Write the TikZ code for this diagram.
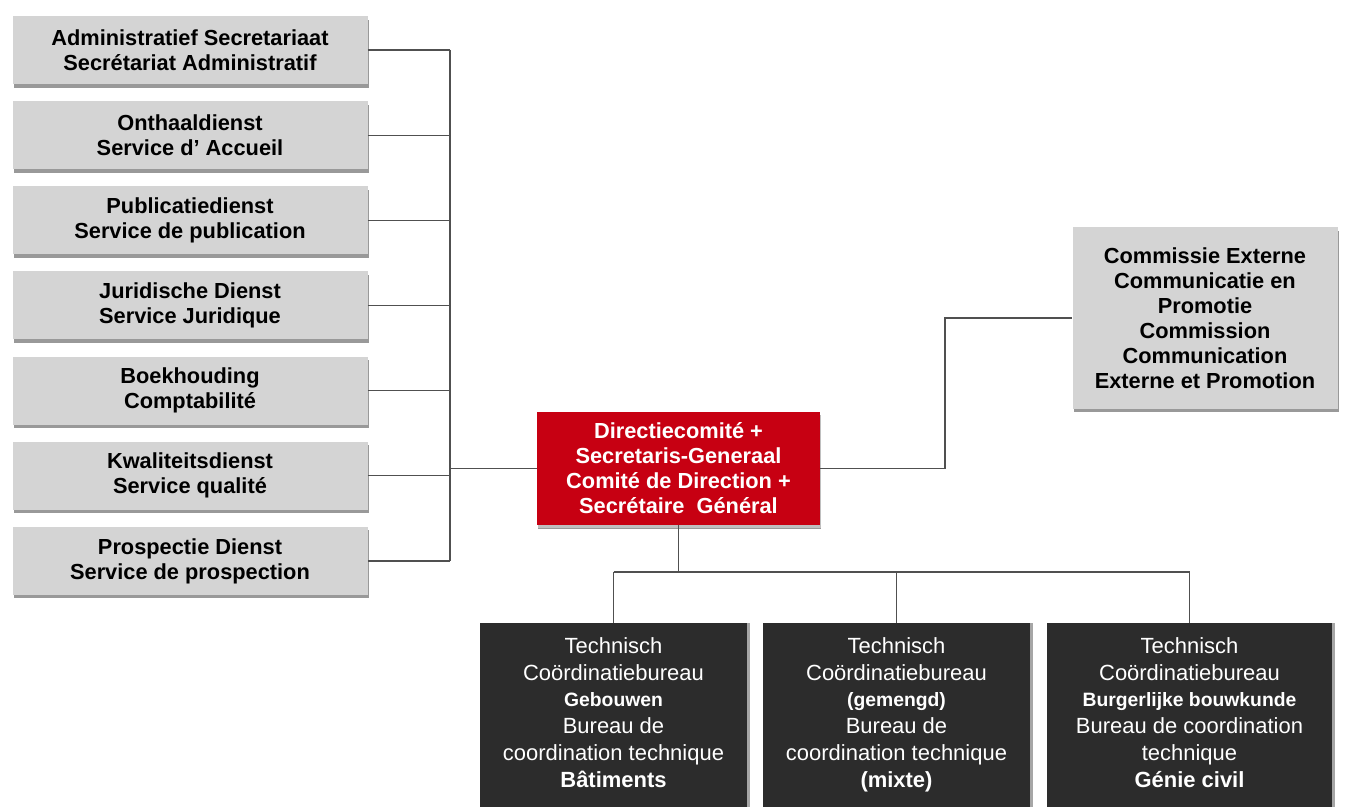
\documentclass[tikz,border=0pt]{standalone}
\usepackage{fontspec}
\setmainfont{Liberation Sans}
\usetikzlibrary{positioning,shadows}
\definecolor{svcgray}{HTML}{D4D4D4}
\definecolor{dirred}{HTML}{C70012}
\definecolor{tcbdark}{HTML}{2C2C2C}
\definecolor{wiregray}{HTML}{505050}
\tikzset{
  svc/.style   = { fill=svcgray, inner sep=0pt, align=center,
    minimum width=7.1cm, minimum height=1.36cm,
    font=\fontsize{12.4}{14.2}\selectfont\bfseries,
    drop shadow={shadow xshift=0.6pt, shadow yshift=-2pt, fill=gray!80, opacity=1} },
  board/.style = { svc, fill=dirred, text=white,
    minimum width=5.66cm, minimum height=2.26cm,
    drop shadow={shadow xshift=0.6pt, shadow yshift=-1.5pt, fill=gray!50, opacity=1} },
  tcb/.style   = { fill=tcbdark, text=white, inner sep=0pt, align=center,
    minimum height=3.68cm, font=\fontsize{12.5}{15.2}\selectfont,
    drop shadow={shadow xshift=1.5pt, shadow yshift=0pt, fill=gray!70, opacity=1} },
  wire/.style  = { draw=wiregray, line width=0.7pt }
}
\newcommand{\tbold}[1]{{\fontsize{11}{15.2}\selectfont\bfseries #1}}

\begin{document}
\begin{tikzpicture}[node distance=1.703cm, on grid]
  \useasboundingbox (0,0) rectangle (27.02,-16.14);
  % stafdiensten / services d'etat-major
  \node[svc] (adm) at (3.8,-1.0) {Administratief Secretariaat\\Secrétariat Administratif};
  \node[svc, below=of adm] (ont) {Onthaaldienst\\Service d' Accueil};
  \node[svc, below=of ont] (pub) {Publicatiedienst\\Service de publication};
  \node[svc, below=of pub] (jur) {Juridische Dienst\\Service Juridique};
  \node[svc, below=of jur] (boe) {Boekhouding\\Comptabilité};
  \node[svc, below=of boe] (kwa) {Kwaliteitsdienst\\Service qualité};
  \node[svc, below=of kwa] (pro) {Prospectie Dienst\\Service de prospection};
  % directie
  \node[board] (dc) at (13.57,-9.37) {Directiecomité +\\Secretaris-Generaal\\Comité de Direction +\\Secrétaire\ \ Général};
  \node[svc, minimum width=5.3cm, minimum height=3.62cm] (cep) at (24.1,-6.36)
    {Commissie Externe\\Communicatie en\\Promotie\\Commission\\Communication\\Externe et Promotion};
  % technische coordinatiebureaus
  \node[tcb, minimum width=5.34cm] (tgb) at (12.27,-14.3)
    {\strut Technisch\\Coördinatiebureau\\\tbold{Gebouwen}\\Bureau de\\coordination technique\\\textbf{Bâtiments}\strut};
  \node[tcb, minimum width=5.34cm, right=5.66cm of tgb] (tgm)
    {\strut Technisch\\Coördinatiebureau\\\tbold{(gemengd)}\\Bureau de\\coordination technique\\\textbf{(mixte)}\strut};
  \node[tcb, minimum width=5.7cm, right=5.86cm of tgm] (tbb)
    {\strut Technisch\\Coördinatiebureau\\\tbold{Burgerlijke bouwkunde}\\Bureau de coordination\\technique\\\textbf{Génie civil}\strut};
  \coordinate (lbus) at (9.0,0);
  \coordinate (rbus) at (18.9,0);
  \coordinate (bbus) at (0,-11.44);
  \foreach \n in {adm,ont,pub,jur,boe,kwa,pro}
    \path[wire] (\n.east) -- (\n.east -| lbus);
  \path[wire] (adm.east -| lbus) -- (pro.east -| lbus);
  \path[wire] (dc.west) -- (dc.west -| lbus);
  \path[wire] (dc.east) -| (rbus |- cep.west) -- (cep.west);
  \path[wire] (dc.south) -- (dc.south |- bbus);
  \path[wire] (tgb.north |- bbus) -- (tbb.north |- bbus);
  \foreach \n in {tgb,tgm,tbb}
    \path[wire] (\n.north |- bbus) -- (\n.north);
\end{tikzpicture}
\end{document}
